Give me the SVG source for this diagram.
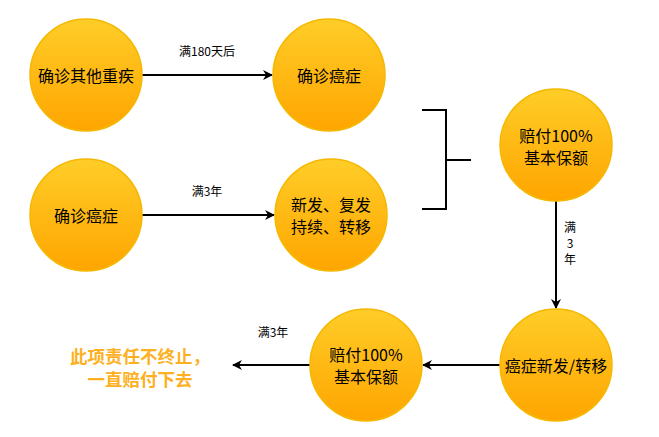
<svg xmlns="http://www.w3.org/2000/svg" width="659" height="437" viewBox="0 0 659 437">
<defs>
<linearGradient id="g" x1="0" y1="0" x2="0" y2="1">
<stop offset="0" stop-color="#FFCD28"/>
<stop offset="1" stop-color="#FFA500"/>
</linearGradient>
<marker id="ah" viewBox="0 0 10 10" refX="9" refY="5" markerWidth="10" markerHeight="10" markerUnits="userSpaceOnUse" orient="auto">
<path d="M0,0 L10,5 L0,10 L3,5 Z" fill="#000"/>
</marker>
<style>
.node circle{fill:url(#g);stroke:#F5B800;stroke-width:1.5}
.node text{font-family:"Noto Sans CJK SC","Liberation Sans",sans-serif;font-size:16px;fill:#000;text-anchor:middle;dominant-baseline:central}
.edge{stroke:#000;stroke-width:2;fill:none}
.lbl{font-family:"Noto Sans CJK SC","Liberation Sans",sans-serif;font-size:12px;fill:#000;text-anchor:middle;dominant-baseline:central}
.note{font-family:"Noto Sans CJK SC","Liberation Sans",sans-serif;font-size:17.5px;font-weight:bold;fill:#FDB022;text-anchor:middle;dominant-baseline:central}
</style>
</defs>
<rect width="659" height="437" fill="#fff"/>
<g id="connectors">
<line class="edge" x1="142" y1="75" x2="272" y2="75" marker-end="url(#ah)"/>
<text class="lbl" x="207" y="50">满180天后</text>
<line class="edge" x1="142" y1="215" x2="274" y2="215" marker-end="url(#ah)"/>
<text class="lbl" x="207" y="190">满3年</text>
<path class="edge" d="M422,110 H446 V209 H422 M446,160 H471"/>
<line class="edge" x1="556" y1="201" x2="556" y2="308" marker-end="url(#ah)"/>
<text class="lbl" x="570" y="226"><tspan x="570" y="226">满</tspan><tspan x="570" y="242">3</tspan><tspan x="570" y="258">年</tspan></text>
<line class="edge" x1="500" y1="365" x2="423" y2="365" marker-end="url(#ah)"/>
<line class="edge" x1="310" y1="365" x2="233" y2="365" marker-end="url(#ah)"/>
<text class="lbl" x="273" y="331">满3年</text>
</g>
<g id="n1" class="node"><circle cx="86" cy="75" r="56"/><text x="86" y="75">确诊其他重疾</text></g>
<g id="n2" class="node"><circle cx="329" cy="75" r="56"/><text x="329" y="75">确诊癌症</text></g>
<g id="n3" class="node"><circle cx="86" cy="215" r="56"/><text x="86" y="215">确诊癌症</text></g>
<g id="n4" class="node"><circle cx="331" cy="215" r="56"/><text><tspan x="331" y="204">新发、复发</tspan><tspan x="331" y="226">持续、转移</tspan></text></g>
<g id="n5" class="node"><circle cx="556" cy="145" r="56"/><text><tspan x="556" y="135">赔付100%</tspan><tspan x="556" y="157">基本保额</tspan></text></g>
<g id="n6" class="node"><circle cx="556" cy="365" r="56"/><text x="556" y="365">癌症新发/转移</text></g>
<g id="n7" class="node"><circle cx="366" cy="365" r="56"/><text><tspan x="366" y="354">赔付100%</tspan><tspan x="366" y="376">基本保额</tspan></text></g>
<g id="note"><text class="note"><tspan x="140" y="355">此项责任不终止，</tspan><tspan x="140" y="378">一直赔付下去</tspan></text></g>
</svg>
